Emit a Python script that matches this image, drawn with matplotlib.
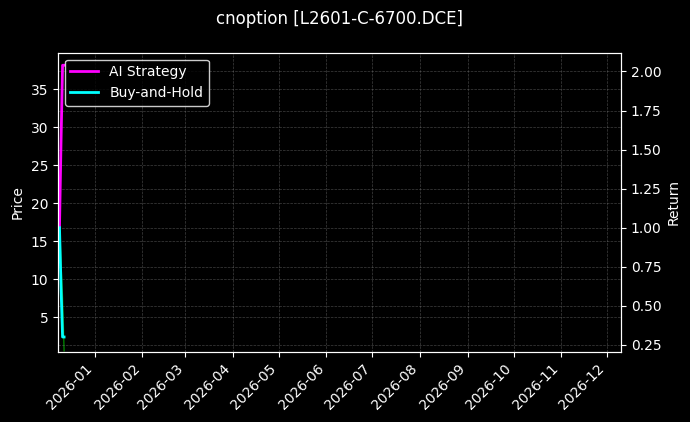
import matplotlib
matplotlib.use("Agg")
import matplotlib.pyplot as plt
import matplotlib.dates as mdates
import pandas as pd

# data (only a few days at the start of the range)
dates = pd.to_datetime(["2025-12-09", "2025-12-10", "2025-12-11", "2025-12-12"])
price = [17.5, 12.0, 7.5, 0.6]
ai_strategy = [1.0, 1.55, 2.04, 2.04]
buy_and_hold = [1.0, 0.62, 0.30, 0.30]

plt.style.use("dark_background")
fig = plt.figure(figsize=(6.9, 4.22), dpi=100)
fig.patch.set_facecolor("black")
ax = fig.add_axes([0.084, 0.167, 0.816, 0.708])
ax.set_facecolor("black")

ax.plot(dates, price, color="green", linewidth=1)
ax.set_ylabel("Price")
ax.set_ylim(0.5, 39.8)
ax.grid(True, linestyle="--", linewidth=0.5, color="gray", alpha=0.5)

ax2 = ax.twinx()
ax2.plot(dates, ai_strategy, color="#ff00ff", linewidth=2, label="AI Strategy")
ax2.plot(dates, buy_and_hold, color="#00ffff", linewidth=2, label="Buy-and-Hold")
ax2.set_ylabel("Return")
ax2.set_ylim(0.207, 2.12)
ax2.grid(True, linestyle="--", linewidth=0.5, color="gray", alpha=0.5)
ax2.legend(loc="upper left", facecolor="black", edgecolor="white")

ax.set_xlim(pd.Timestamp("2025-12-08"), pd.Timestamp("2026-12-10"))
ax.xaxis.set_major_locator(mdates.MonthLocator())
ax.xaxis.set_major_formatter(mdates.DateFormatter("%Y-%m"))
for lbl in ax.get_xticklabels():
    lbl.set_rotation(45)
    lbl.set_ha("right")

ax.set_title("cnoption [L2601-C-6700.DCE]", fontsize=12, pad=21)
fig.savefig("out.png", dpi=100, facecolor="black")
